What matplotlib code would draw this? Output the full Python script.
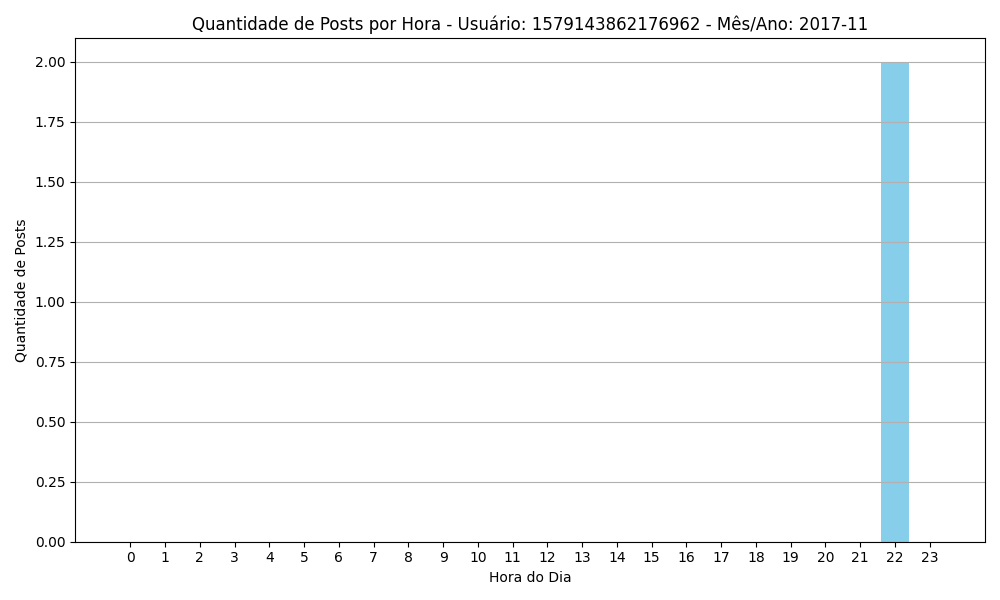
import matplotlib
matplotlib.use("Agg")
import matplotlib.pyplot as plt

horas = list(range(24))
posts = [0] * 24
posts[22] = 2

usuario = "1579143862176962"
mes_ano = "2017-11"

plt.figure(figsize=(10, 6))
plt.bar(horas, posts, color="skyblue")
plt.xlabel("Hora do Dia")
plt.ylabel("Quantidade de Posts")
plt.title(f"Quantidade de Posts por Hora - Usuário: {usuario} - Mês/Ano: {mes_ano}")
plt.xticks(horas)
plt.grid(axis="y")
plt.tight_layout()
plt.savefig("out.png")
